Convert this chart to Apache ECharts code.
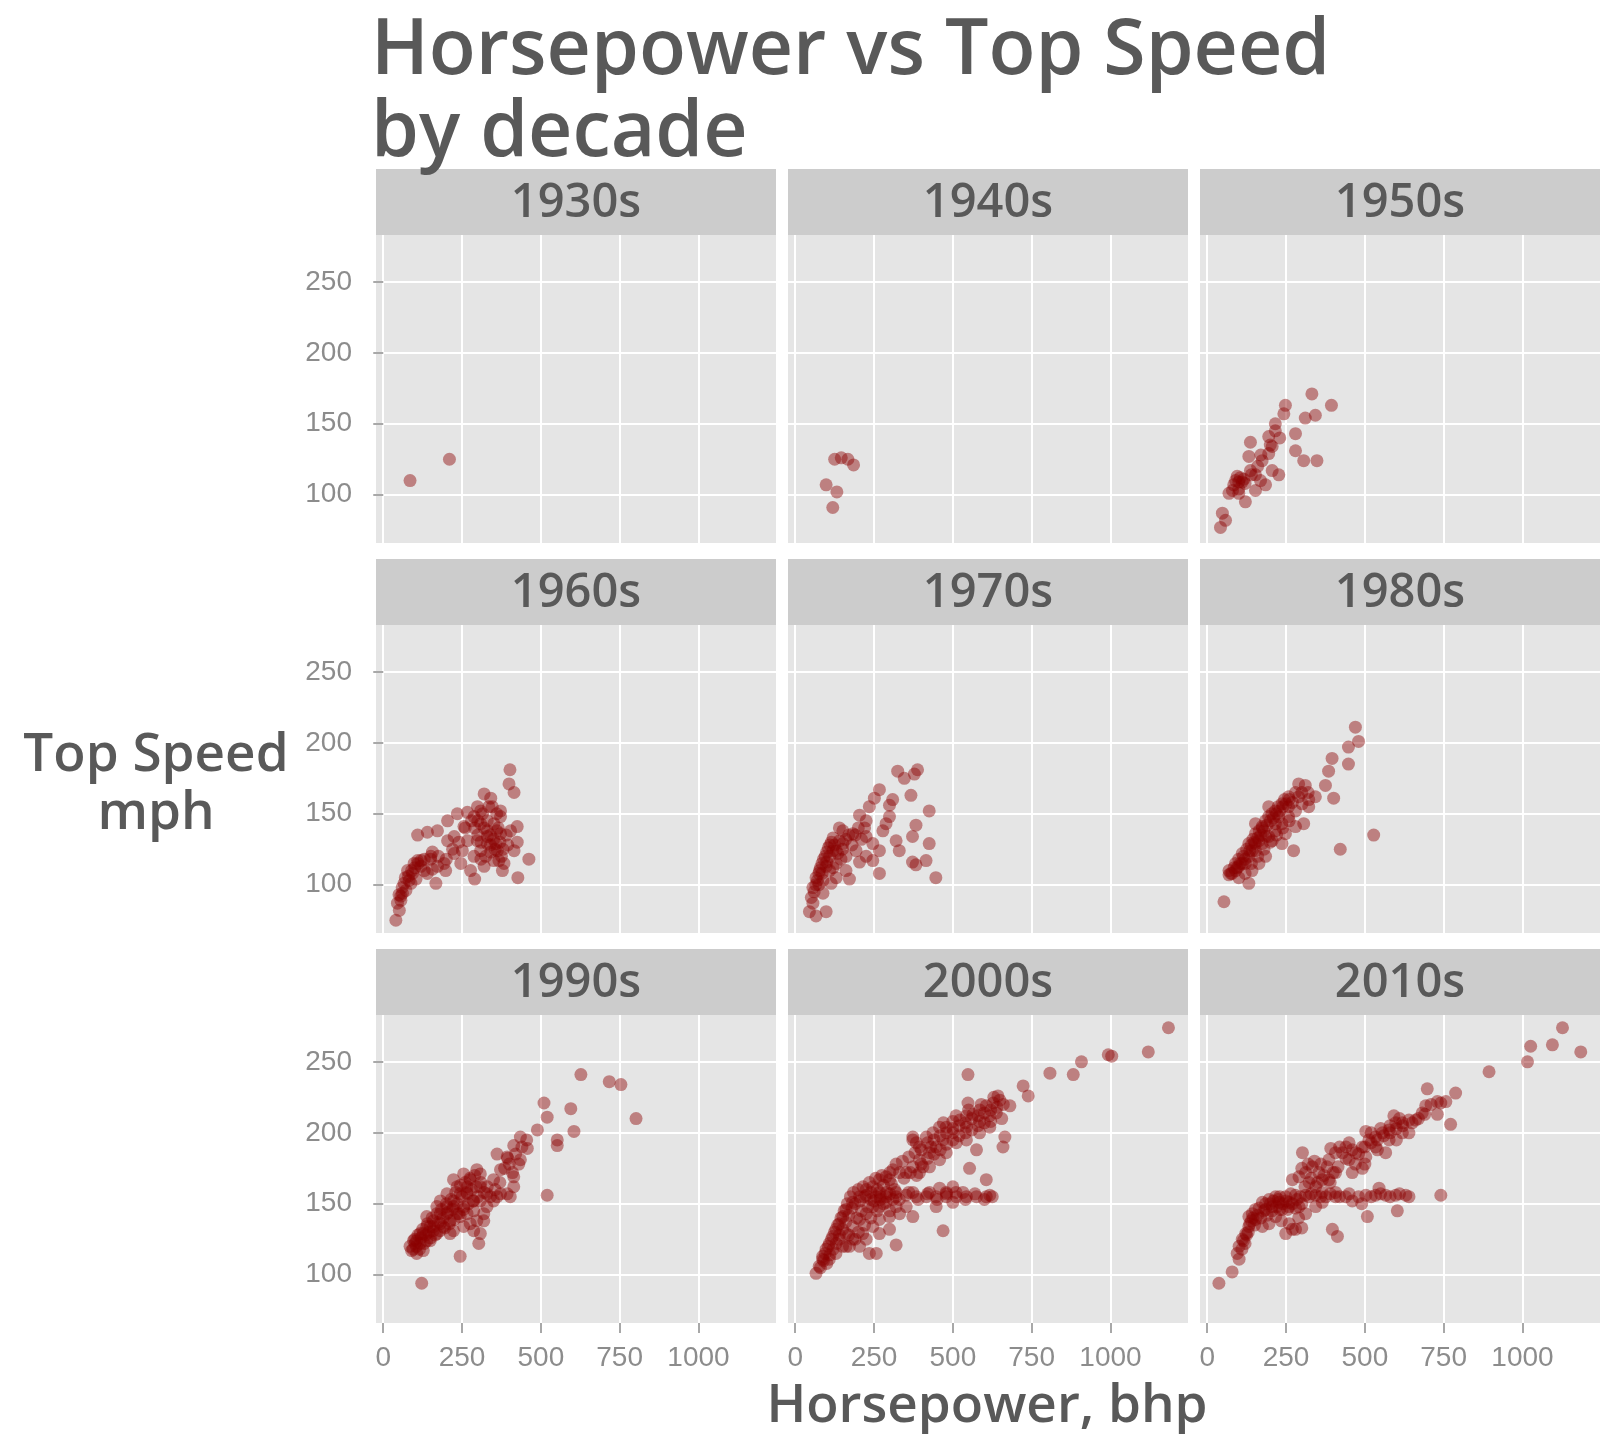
<!DOCTYPE html>
<html>
<head>
<meta charset="utf-8">
<title>Horsepower vs Top Speed by decade</title>
<script src="https://cdn.jsdelivr.net/npm/echarts@6/dist/echarts.min.js"></script>
<style>
html, body { margin: 0; padding: 0; background: #fff; }
#chart { width: 1610px; height: 1434px; }
</style>
</head>
<body>
<div id="chart"></div>
<script>
// facets as [bhp, mph]
const decades = ['1930s', '1940s', '1950s', '1960s', '1970s', '1980s', '1990s', '2000s', '2010s'];
const xTicks = [0, 250, 500, 750, 1000];
const yTicks = [100, 150, 200, 250];

const d1930s = [[85,110],[210,125]];
const d1940s = [[125,125],[146,126],[167,125],[185,121],[98,107],[132,102],[119,91]];
const d1950s = [[332,171],[394,163],[248,163],[343,156],[311,154],[216,145],[195,141],[280,143],[137,137],[206,134],[195,129],[280,131],[306,124],[348,124],[132,127],[174,124],[227,114],[95,113],[111,109],[84,107],[153,103],[185,107],[121,95],[48,87],[58,82],[42,77],[69,101],[216,150],[243,157],[153,114],[100,101],[206,117],[169,110],[137,117],[100,109],[116,111],
  [90,110],[105,112],[120,108],[140,114],[160,120],[170,128],[200,135],[230,140],[100,104],[80,103]];
const d1960s = [[402,181],[399,171],[415,165],[462,118],[427,105],[290,104],[167,101],[40,75],[425,141],[425,130],[109,135],[140,137],[172,138],[204,145],[235,150],[267,151],[299,155],[320,164],[341,161],[372,152],[309,143],[330,138],[351,143],[372,136],[330,129],[362,124],[309,124],[288,120],[351,117],[383,115],[320,113],[267,131],[251,124],[246,115],[225,122],[204,131],[193,115],[198,110],[172,113],[156,123],[151,120],[119,113],[98,115],[77,110],[82,103],[66,101],[61,94],[56,89],[45,87],[51,82],[72,96],[93,108],[109,117],[130,110],[372,148],[404,138],[288,148],[256,141],[225,134],[309,152],[346,155],[277,110],[415,124],[378,110],[330,134],[357,129],[298,131],[341,123],[367,117],[56,92],[88,101],[104,104],[140,108],[156,111],
  [300,135],[310,130],[320,140],[330,145],[340,128],[350,132],[360,138],[370,130],[380,125],[390,135],[310,118],[325,120],[340,135],[355,125],[365,140],[375,120],[395,128],[300,145],[290,140],[315,150],[335,155],[360,150],[70,105],[80,106],[90,110],[100,112],[110,115],[120,117],[130,118],[150,118],[175,120],[60,98],[50,93],[200,118],[220,125],[240,130],[260,140],[280,145]];
const d1970s = [[388,181],[378,178],[325,180],[346,175],[367,163],[267,167],[251,161],[309,160],[299,156],[425,152],[204,149],[383,142],[288,143],[225,145],[151,138],[183,136],[140,131],[372,134],[425,129],[320,131],[330,124],[267,124],[225,120],[204,116],[246,117],[372,116],[415,117],[383,114],[446,105],[267,108],[172,104],[161,110],[119,124],[109,120],[98,113],[77,110],[66,105],[56,98],[51,91],[56,87],[45,81],[98,81],[66,78],[88,94],[130,115],[114,101],[193,124],[246,129],[299,148],[235,155],[130,124],[151,129],[109,110],[88,103],[161,120],[225,134],[278,138],
  [60,95],[65,100],[70,103],[75,108],[80,112],[85,115],[90,118],[95,120],[100,123],[105,126],[110,128],[115,130],[120,133],[125,128],[135,122],[145,118],[150,125],[160,132],[170,135],[180,128],[190,135],[200,140],[210,132],[220,140],[140,140],[85,108],[75,100],[100,116],[120,112],[130,105]];
const d1980s = [[470,211],[480,201],[448,197],[396,189],[448,185],[385,180],[375,170],[311,170],[290,171],[401,161],[528,135],[422,125],[274,124],[306,143],[132,101],[53,88],[69,107],[90,110],[111,115],[132,120],[153,124],[174,129],[195,134],[216,138],[237,143],[258,148],[280,152],[301,157],[322,160],[258,162],[237,157],[216,152],[195,148],[174,141],[153,136],[132,129],[111,122],[90,115],[79,108],[206,131],[248,136],[280,141],[322,155],[195,155],[153,143],[227,148],[100,105],[142,110],[164,115],[185,120],[237,129],[343,162],[290,162],[258,155],[121,115],[153,129],[185,134],[216,143],[142,124],[69,110],[100,113],[164,131],
  [75,108],[85,112],[95,112],[100,118],[105,115],[115,120],[120,118],[125,125],[135,124],[140,128],[145,132],[150,130],[160,133],[165,138],[170,135],[175,140],[180,138],[185,145],[190,142],[200,145],[205,150],[210,147],[220,150],[225,155],[230,152],[240,155],[245,160],[250,157],[260,160],[270,158],[280,165],[300,165],[320,165],[180,125],[200,130],[220,135],[240,140],[260,145],[120,108],[140,115],[160,120]];
const d1990s = [[627,241],[717,236],[754,234],[802,210],[510,221],[595,217],[520,211],[489,202],[605,201],[552,195],[552,191],[520,156],[244,113],[122,94],[303,122],[435,197],[414,191],[457,189],[361,185],[393,183],[435,181],[414,169],[393,157],[361,155],[308,152],[297,174],[276,167],[255,171],[234,162],[266,157],[223,152],[308,162],[329,157],[350,167],[202,148],[181,143],[159,138],[138,134],[117,129],[96,124],[85,120],[106,115],[127,117],[149,124],[170,129],[191,134],[212,138],[234,143],[255,148],[276,136],[297,138],[319,138],[308,129],[287,131],[212,129],[255,134],[244,141],[223,131],[159,131],[138,124],[117,122],[90,117],[101,122],[329,148],[266,162],[308,171],[372,174],[414,162],[138,141],[170,148],[181,136],[319,143],[202,157],[223,167],[244,157],[287,152],[149,134],[127,129],[106,124],[181,152],[202,143],[223,148],[266,143],[287,145],[350,152],[372,157],[403,155],
  [95,118],[100,125],[105,120],[110,128],[115,118],[120,126],[125,132],[130,122],[135,128],[140,136],[145,130],[150,126],[155,140],[160,134],[165,128],[170,143],[175,137],[180,131],[185,146],[190,140],[195,133],[200,150],[205,144],[210,136],[215,153],[220,146],[225,139],[230,158],[235,150],[240,143],[245,163],[250,155],[255,146],[260,165],[265,158],[270,150],[275,168],[280,160],[285,152],[290,170],[295,162],[300,155],[310,165],[320,158],[330,162],[340,155],[355,160],[370,165],[385,175],[400,178],[420,185],[440,190],[455,195],[430,178],[410,172],[395,182]];
const d2000s = [[1184,274],[1120,257],[993,255],[1004,254],[908,250],[882,241],[808,242],[548,241],[723,233],[739,226],[643,226],[681,219],[548,221],[665,197],[659,190],[575,188],[553,175],[606,167],[469,131],[320,121],[257,115],[66,101],[87,111],[172,120],
  [373,195],[394,190],[416,197],[437,200],[458,204],[479,204],[500,208],[522,209],[543,212],[564,213],[585,216],[606,219],[628,221],[649,223],[638,214],[617,212],[585,208],[543,204],[500,200],[469,195],[447,190],[426,186],[394,181],[373,176],[352,172],[331,172],[310,174],[299,167],[394,172],[426,176],[458,181],[479,186],[511,193],[543,195],[585,200],[617,204],[373,197],[384,193],
  [225,156],[257,155],[288,155],[320,155],[352,156],[384,155],[416,155],[447,155],[479,155],[511,155],[543,155],[575,155],[606,155],[617,156],[267,158],[320,158],[373,158],[426,158],[479,158],[532,158],[500,162],[458,161],[447,148],[500,151],
  [87,113],[98,118],[108,122],[119,127],[129,132],[140,136],[151,141],[161,146],[182,151],[204,155],[225,160],[246,162],[267,167],[288,169],[140,125],[161,129],[182,134],[204,139],[225,143],[246,148],[267,148],[288,151],[310,153],[182,125],[214,129],[246,134],[267,139],[299,141],[331,143],[225,125],[267,129],[299,132],[373,141],[320,148],[352,148],[76,106],[108,111],[129,115],[161,120],[204,120],[235,115],
  [80,105],[90,110],[95,115],[100,108],[105,120],[110,114],[115,125],[120,118],[125,130],[130,122],[135,135],[140,128],[145,140],[150,132],[155,145],[160,137],[165,150],[170,142],[175,155],[180,147],[185,158],[190,150],[195,140],[200,160],[205,152],[210,145],[215,162],[220,155],[230,148],[235,165],[240,158],[250,152],[255,168],[260,160],[270,155],[275,170],[280,163],[290,158],[300,172],[305,164],[315,160],[200,130],[220,135],[240,140],[260,145],[280,150],[300,145],[190,125],[170,128],[150,120],
  [240,153],[270,153],[300,157],[330,153],[360,158],[390,153],[420,157],[450,153],[480,157],[510,158],[540,153],[570,157],[600,153],[625,155],
  [320,178],[340,180],[360,183],[380,186],[400,188],[420,193],[440,195],[460,198],[480,200],[500,203],[520,205],[540,207],[560,210],[580,212],[600,214],[620,216],[640,218],[400,178],[420,182],[440,185],[460,188],[480,192],[500,195],[520,198],[540,200],[560,202],[580,205],[600,207],[620,208],[345,168],[365,172],[385,170],[405,176],[430,190],[470,207],[510,212],[550,216],[590,220],[630,225],[655,210],[660,220]];
const d2010s = [[1127,274],[1095,262],[1026,261],[1185,257],[1016,250],[894,243],[788,228],[698,231],[757,222],[741,221],[693,219],[730,213],[772,206],[592,212],[302,186],[741,156],[603,145],[508,141],[397,132],[413,127],[37,94],[79,102],[101,111],
  [392,189],[407,186],[429,186],[450,181],[460,172],[492,175],[471,186],[492,190],[513,195],[534,197],[556,200],[577,202],[598,207],[619,207],[640,209],[661,209],[682,214],[534,190],[577,195],[619,200],[566,186],[503,183],[407,172],[386,181],[450,193],[503,201],
  [333,176],[312,172],[354,172],[365,167],[323,165],[291,169],[270,167],[344,162],[386,167],
  [217,155],[249,155],[280,156],[312,156],[344,156],[376,155],[407,155],[439,155],[460,152],[503,156],[534,156],[566,156],[598,156],[630,156],[407,158],[365,158],[545,161],[323,155],
  [132,141],[153,146],[175,151],[196,153],[153,139],[175,134],[196,136],[217,141],[238,146],[259,148],[270,132],[249,129],[122,129],[111,125],[101,120],[95,115],[132,134],[206,148],[291,148],[312,143],[344,148],[365,151],[143,143],[228,151],[185,146],
  [110,118],[115,124],[120,122],[125,128],[130,130],[135,136],[140,138],[145,140],[150,135],[160,142],[165,147],[170,140],[180,145],[185,150],[190,142],[200,150],[205,145],[210,152],[220,148],[225,153],[230,146],[240,150],[250,152],[255,146],[260,151],[270,150],[280,147],[285,153],[300,150],[235,138],[260,136],[280,132],[300,133],[290,140],
  [230,155],[265,157],[295,155],[330,157],[360,155],[390,157],[420,155],[450,157],[480,155],[490,150],[520,155],[550,157],[580,155],[610,157],[640,155],
  [300,175],[320,178],[340,180],[360,178],[380,176],[330,168],[350,165],[370,170],[310,162],[390,165],[400,172],[415,176],
  [420,190],[440,190],[460,188],[480,185],[500,190],[520,193],[540,195],[560,198],[580,200],[600,203],[620,205],[650,207],[670,210],[690,213],[520,200],[550,203],[580,205],[610,210],[440,182],[470,178],[500,178],[540,188],[600,195],[640,200],[710,220],[730,222]];

const decadeData = [d1930s, d1940s, d1950s, d1960s, d1970s, d1980s, d1990s, d2000s, d2010s];

// panel layout
const colLeft = [376, 788, 1200];
const rowTop = [235, 625, 1015];
const panelW = 400, panelH = 308, stripH = 66;
const xRange = [-23, 1246], yRange = [66, 283];
const textGrey = '#595959';
const tickGrey = '#8c8c8c';
const titleFont = '"Open Sans", "DejaVu Sans", sans-serif';

let chart = echarts.init(document.getElementById('chart'));

let grids = [], xAxes = [], yAxes = [], series = [], graphics = [];
decades.forEach((name, i) => {
    let r = Math.floor(i / 3), c = i % 3;
    grids.push({
        left: colLeft[c], top: rowTop[r], width: panelW, height: panelH,
        show: true, backgroundColor: '#e5e5e5', borderWidth: 0,
        containLabel: false, outerBoundsMode: 'none'
    });
    xAxes.push({
        type: 'value', gridIndex: i, min: xRange[0], max: xRange[1],
        axisLine: { show: false },
        axisTick: { show: r === 2, length: 10, customValues: xTicks, lineStyle: { color: tickGrey, width: 1.5 } },
        axisLabel: { show: r === 2, customValues: xTicks, margin: 21, color: tickGrey, fontSize: 28,
                     fontFamily: 'Liberation Sans', formatter: v => String(v) },
        splitLine: { show: true, lineStyle: { color: '#ffffff', width: 2 } }
    });
    yAxes.push({
        type: 'value', gridIndex: i, min: yRange[0], max: yRange[1],
        axisLine: { show: false },
        axisTick: { show: c === 0, length: 10, customValues: yTicks, lineStyle: { color: tickGrey, width: 1.5 } },
        axisLabel: { show: c === 0, customValues: yTicks, margin: 24, color: tickGrey, fontSize: 28,
                     fontFamily: 'Liberation Sans', formatter: v => String(v) },
        splitLine: { show: true, lineStyle: { color: '#ffffff', width: 2 } }
    });
    series.push({
        name: name, type: 'scatter', xAxisIndex: i, yAxisIndex: i,
        data: decadeData[i], symbol: 'circle', symbolSize: 13,
        itemStyle: { color: 'rgba(139,0,0,0.55)' },
        silent: true
    });
    // facet strip
    graphics.push({
        type: 'rect', silent: true,
        shape: { x: colLeft[c], y: rowTop[r] - stripH, width: panelW, height: stripH },
        style: { fill: '#cccccc' }
    });
    graphics.push({
        type: 'text', silent: true,
        x: colLeft[c] + panelW / 2, y: rowTop[r] - stripH / 2 + 2,
        style: { text: name, fill: textGrey, fontSize: 47, fontWeight: 600, fontFamily: titleFont,
                 align: 'center', verticalAlign: 'middle', textAlign: 'center', textVerticalAlign: 'middle' }
    });
});

// titles
graphics.push({
    type: 'text', silent: true, x: 371, y: 11,
    style: { text: 'Horsepower vs Top Speed\nby decade', fill: textGrey, fontSize: 77, fontWeight: 600, lineHeight: 82,
             fontFamily: titleFont, align: 'left', verticalAlign: 'top', textAlign: 'left', textVerticalAlign: 'top' }
});
graphics.push({
    type: 'text', silent: true, x: 987, y: 1407,
    style: { text: 'Horsepower, bhp', fill: textGrey, fontSize: 53, fontWeight: 600, fontFamily: titleFont,
             align: 'center', verticalAlign: 'middle', textAlign: 'center', textVerticalAlign: 'middle' }
});
graphics.push({
    type: 'text', silent: true, x: 156, y: 727,
    style: { text: 'Top Speed\nmph', fill: textGrey, fontSize: 53, fontWeight: 600, lineHeight: 58, fontFamily: titleFont,
             align: 'center', verticalAlign: 'top', textAlign: 'center', textVerticalAlign: 'top' }
});

let option = {
    backgroundColor: '#ffffff',
    animation: false,
    grid: grids,
    xAxis: xAxes,
    yAxis: yAxes,
    series: series,
    graphic: graphics
};
chart.setOption(option);
window.addEventListener('resize', () => { chart.resize(); });
</script>
</body>
</html>
